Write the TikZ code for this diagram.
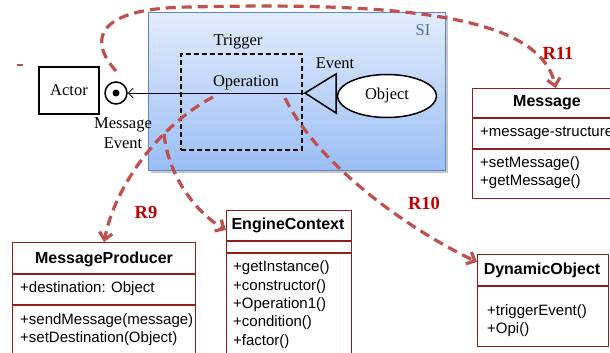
\documentclass[tikz,border=0pt]{standalone}
\usepackage{fontspec}
\setmainfont{Liberation Serif}
\setsansfont{Liberation Sans}
\usetikzlibrary{arrows.meta,shapes.geometric,calc}
\definecolor{dashred}{RGB}{192,80,77}
\definecolor{clsred}{RGB}{140,30,30}
\definecolor{lblred}{RGB}{192,0,0}
\definecolor{sitop}{RGB}{226,236,253}
\definecolor{sibot}{RGB}{155,190,245}
\definecolor{siborder}{RGB}{95,135,205}
\definecolor{sitext}{RGB}{80,110,175}
\begin{document}
\begin{tikzpicture}[x=1pt,y=-1pt,
  serif/.style={font=\fontsize{16.5}{20}\selectfont},
  cls/.style={draw=clsred, line width=1.2pt, inner sep=0pt, anchor=north west},
  ctitle/.style={font=\sffamily\bfseries\fontsize{16}{18}\selectfont, inner sep=0pt},
  citem/.style={font=\sffamily\fontsize{15}{18}\selectfont, anchor=west, inner sep=0pt},
  rel/.style={draw=dashred, line width=3.2pt, dash pattern=on 10pt off 6pt,
    -{Straight Barb[length=7pt,width=13pt]}},
  rlabel/.style={text=lblred, font=\bfseries\fontsize{18.5}{20}\selectfont},
  divider/.style={draw=clsred, line width=1.2pt}
]
\clip (0,0) rectangle (610,353);
\fill[white] (0,0) rectangle (610,353);

% SI region
\fill[gray!45] (151,15) rectangle (448,173);
\node[draw=siborder, line width=0.8pt, top color=sitop, bottom color=sibot,
  minimum width=297pt, minimum height=158pt, anchor=north west, inner sep=0pt] (si) at (148,12) {};
\node[serif, text=sitext] (silbl) at (423,30) {SI};

% Trigger box
\node[draw, line width=1.8pt, dash pattern=on 5pt off 3pt, minimum width=121pt,
  minimum height=96pt, anchor=north west, inner sep=0pt] (trig) at (180,53) {};
\node[serif] (trigl) at (238,42) {Trigger};
\node[serif] (oper) at (246,83) {Operation};

% Event triangle and object
\draw[line width=1.5pt] (305,93) coordinate (tip) -- (336,74) coordinate (t2) -- (336,113) coordinate (t3) -- cycle;
\node[serif] (evl) at (335,63) {Event};
\node[draw, ellipse, line width=1.5pt, fill=white, minimum width=99pt, minimum height=43pt,
  inner sep=0pt, serif] (obj) at (387,96) {Object};

% Actor and message event
\node[draw, line width=1.5pt, minimum width=60pt, minimum height=47pt, fill=white,
  inner sep=0pt, serif] (actor) at (69,90.5) {Actor};
\node[draw, circle, line width=1.5pt, minimum size=22pt, inner sep=0pt, fill=white] (me) at (116,93) {};
\fill (me.center) circle[radius=3.5pt];
\node[serif, align=center] (mel) at (123,133) {Message\\Event};
\draw[line width=0.8pt, -{Straight Barb[length=5pt,width=10pt]}] (tip) -- (me);

\draw[dashred, line width=2pt] (17,65) coordinate (d1) -- (23,65) coordinate (d2);

% Message class
\node[cls, minimum width=150pt, minimum height=110pt] (msg) at (472,88) {};
\node[ctitle] (msgt) at (547,103) {Message};
\draw[divider] (472,118) -- (622,118);
\draw[divider] (472,149) -- (622,149);
\node[citem] (msg1) at (480,133) {+message-structure};
\node[citem] (msg2) at (480,164) {+setMessage()};
\node[citem] (msg3) at (480,182) {+getMessage()};

% MessageProducer class
\node[cls, minimum width=183pt, minimum height=130pt] (mp) at (12,242) {};
\node[ctitle] (mpt) at (104,259) {MessageProducer};
\draw[divider] (12,274) -- (196,274);
\draw[divider] (12,305) -- (196,305);
\node[citem] (mp1) at (20,289) {+destination: Object};
\node[citem] (mp2) at (20,321) {+sendMessage(message)};
\node[citem] (mp3) at (20,339) {+setDestination(Object)};

% EngineContext class
\node[cls, minimum width=125pt, minimum height=160pt] (ec) at (226,210) {};
\node[ctitle] (ect) at (288,225) {EngineContext};
\draw[divider] (226,241) -- (352,241);
\draw[divider] (226,253) -- (352,253);
\node[citem] (ec1) at (233,268) {+getInstance()};
\node[citem] (ec2) at (233,287) {+constructor()};
\node[citem] (ec3) at (233,305) {+Operation1()};
\node[citem] (ec4) at (233,323) {+condition()};
\node[citem] (ec5) at (233,342) {+factor()};

% DynamicObject class
\node[cls, minimum width=131pt, minimum height=92pt] (dyn) at (477,254) {};
\node[ctitle] (dynt) at (542,270) {DynamicObject};
\draw[divider] (477,286) -- (608,286);
\node[citem] (dyn1) at (487,312) {+triggerEvent()};
\node[citem] (dyn2) at (487,330) {+Opi()};

% Relations
\coordinate (r11s) at (116,71);
\coordinate (r9s) at (213,97);
\coordinate (r10s) at (285,98);
\draw[rel] (r11s) .. controls (88,40) and (95,8) .. (190,7)
  .. controls (400,2) and (540,15) .. ([xshift=8pt]msg.north);
\draw[rel] (r9s) .. controls (160,125) and (115,185) .. (mp.north) coordinate[pos=0.33] (br);
\draw[rel] (br) .. controls (168,175) and (195,212) .. ([yshift=-20pt]ec.north west);
\draw[rel] (r10s) .. controls (315,160) and (400,225) .. ([yshift=-8pt]dyn.north west);

\node[rlabel] (r9) at (146,212) {R9};
\node[rlabel] (r10) at (424,203) {R10};
\node[rlabel] (r11) at (558,53) {R11};
\end{tikzpicture}
\end{document}
